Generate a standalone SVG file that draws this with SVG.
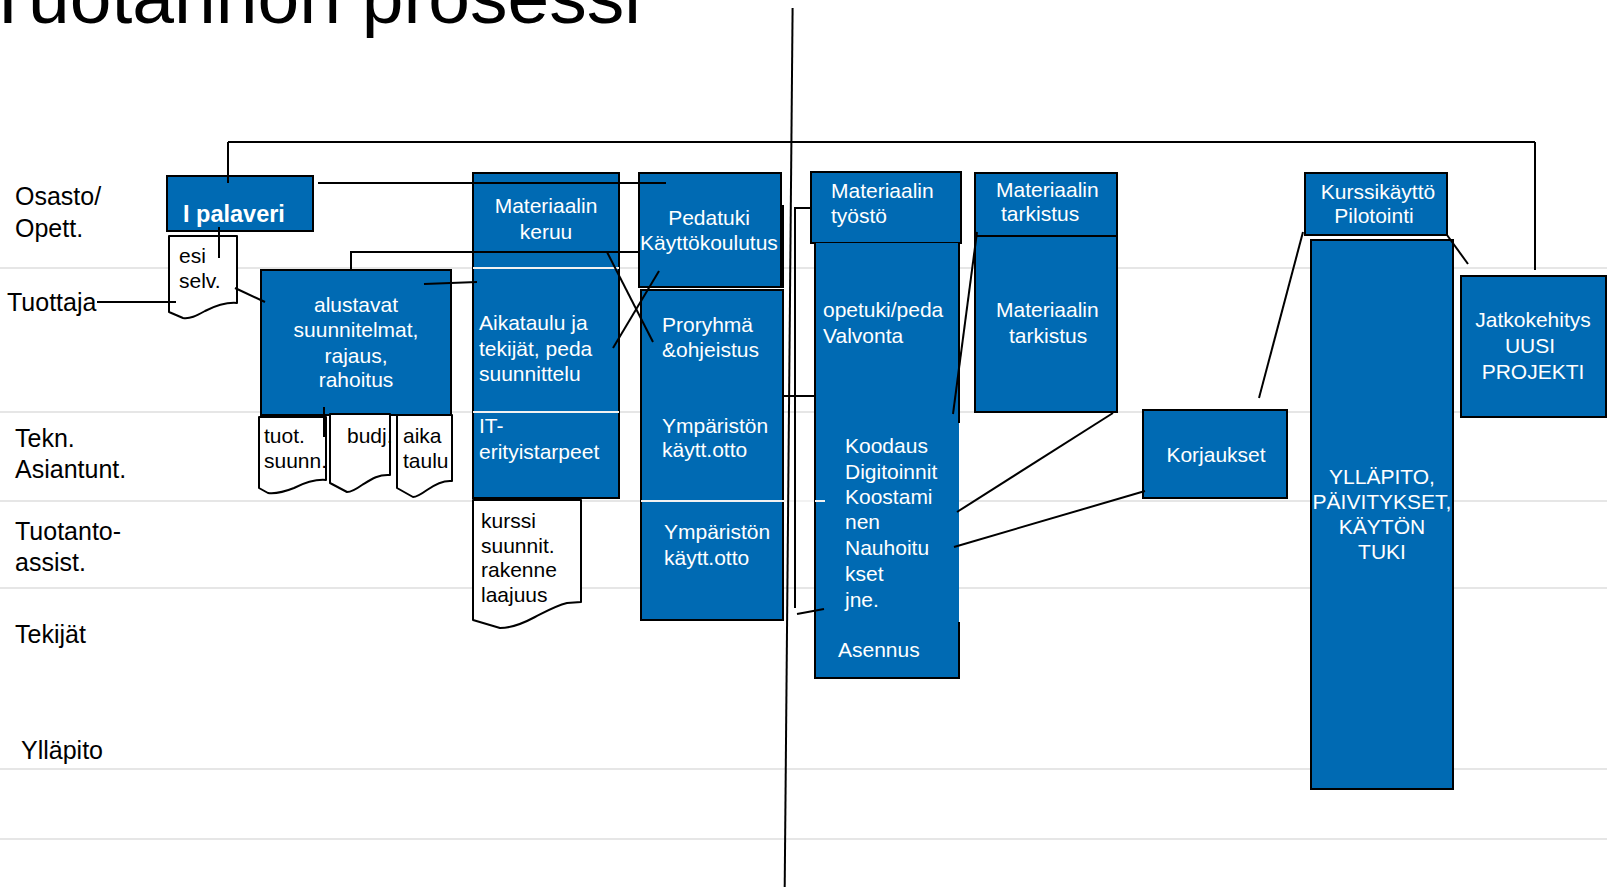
<svg xmlns="http://www.w3.org/2000/svg" width="1607" height="887" viewBox="0 0 1607 887">
<style>
text{font-family:"Liberation Sans",Arial,sans-serif}
.lane{stroke:#e6e6e6;stroke-width:2;fill:none}
.wl{stroke:#f2f2f2;stroke-width:2;fill:none}
.box{fill:#006ab3;stroke:#000;stroke-width:2}
.fillonly{fill:#006ab3;stroke:none}
.edge{fill:none;stroke:#000;stroke-width:2}
.doc{fill:#fff;stroke:#000;stroke-width:2;stroke-linejoin:round}
.lbl{font-size:25px;fill:#000}
.bt{font-size:21px;fill:#fff}
.dt{font-size:21px;fill:#000}
.c{text-anchor:middle}
.con line,.con polyline{stroke:#000;stroke-width:2;fill:none}
</style>
<rect width="1607" height="887" fill="#fff"/>
<g id="title"><text x="-15" y="23" font-size="75" fill="#000">Tuotannon prosessi</text></g>
<g id="lanes">
<line class="lane" x1="0" y1="268" x2="1607" y2="268"/>
<line class="lane" x1="0" y1="412" x2="1607" y2="412"/>
<line class="lane" x1="0" y1="501" x2="1607" y2="501"/>
<line class="lane" x1="0" y1="588" x2="1607" y2="588"/>
<line class="lane" x1="0" y1="769" x2="1607" y2="769"/>
<line class="lane" x1="0" y1="839" x2="1607" y2="839"/>
<text class="lbl" x="15" y="205">Osasto/</text>
<text class="lbl" x="15" y="237">Opett.</text>
<text class="lbl" x="7" y="311">Tuottaja</text>
<text class="lbl" x="15" y="447">Tekn.</text>
<text class="lbl" x="15" y="478">Asiantunt.</text>
<text class="lbl" x="15" y="540">Tuotanto-</text>
<text class="lbl" x="15" y="571">assist.</text>
<text class="lbl" x="15" y="643">Tekijät</text>
<text class="lbl" x="21" y="759">Ylläpito</text>
</g>
<g id="n-palaveri"><rect class="box" x="167" y="176" width="146" height="55"/><text x="183" y="222" font-size="23.5" font-weight="bold" fill="#fff">I palaveri</text></g>
<g id="n-esi"><path class="doc" d="M169,236 H237 V303 C225,302 215,306 205,311 C196,316 190,319 183,318 L169,312 Z"/><text class="dt" x="179" y="263">esi</text><text class="dt" x="179" y="288">selv.</text></g>
<g id="n-alustavat"><rect class="box" x="261" y="270" width="190" height="145"/>
<text class="bt c" x="356" y="312">alustavat</text><text class="bt c" x="356" y="337">suunnitelmat,</text><text class="bt c" x="356" y="363">rajaus,</text><text class="bt c" x="356" y="387">rahoitus</text></g>
<g id="n-tuot"><path class="doc" d="M259,417 H326 V480 C314,479 304,483 294,488 C284,492 276,494 268,493 L259,488 Z"/><text class="dt" x="264" y="443">tuot.</text><text class="dt" x="264" y="468">suunn.</text></g>
<g id="n-budj"><path class="doc" d="M330,414 H390 V475 C378,474 370,480 362,485 C355,490 351,492 347,492 L330,483 Z"/><text class="dt" x="347" y="443">budj.</text></g>
<g id="n-aika"><path class="doc" d="M397,415 H452 V481 C442,480 434,485 427,490 C420,495 416,497 413,497 L397,488 Z"/><text class="dt" x="403" y="443">aika</text><text class="dt" x="403" y="468">taulu</text></g>
<g id="n-keruu"><rect class="box" x="473" y="173" width="146" height="325"/>
<line class="wl" x1="473" y1="268" x2="619" y2="268"/><line class="wl" x1="473" y1="412" x2="619" y2="412"/>
<text class="bt c" x="546" y="213">Materiaalin</text><text class="bt c" x="546" y="239">keruu</text>
<text class="bt" x="479" y="330">Aikataulu ja</text><text class="bt" x="479" y="356">tekijät, peda</text><text class="bt" x="479" y="381">suunnittelu</text>
<text class="bt" x="479" y="433">IT-</text><text class="bt" x="479" y="459">erityistarpeet</text></g>
<g id="n-kurssi"><path class="doc" d="M473,500 H581 V602 L567,603 C555,606 545,612 535,617 C522,624 510,628 500,628 L473,620 Z"/>
<text class="dt" x="481" y="528">kurssi</text><text class="dt" x="481" y="553">suunnit.</text><text class="dt" x="481" y="577">rakenne</text><text class="dt" x="481" y="602">laajuus</text></g>
<g id="n-pedatuki"><rect class="box" x="639" y="173" width="142" height="114"/><text class="bt c" x="709" y="225">Pedatuki</text><text class="bt c" x="709" y="250">Käyttökoulutus</text></g>
<g id="n-proryhma"><rect class="box" x="641" y="290" width="142" height="330"/>
<line class="wl" x1="641" y1="501" x2="825" y2="501"/>
<text class="bt" x="662" y="332">Proryhmä</text><text class="bt" x="662" y="357">&amp;ohjeistus</text>
<text class="bt" x="662" y="433">Ympäristön</text><text class="bt" x="662" y="457">käytt.otto</text>
<text class="bt" x="664" y="539">Ympäristön</text><text class="bt" x="664" y="565">käytt.otto</text></g>
<g id="n-tyosto"><rect class="box" x="811" y="172" width="150" height="71"/><text class="bt" x="831" y="198">Materiaalin</text><text class="bt" x="831" y="223">työstö</text></g>
<g id="n-koodaus"><rect class="fillonly" x="815" y="243" width="144" height="435"/>
<path class="edge" d="M959,243 V423 M959,622 V678 H815 V243"/>
<line class="wl" x1="815" y1="501" x2="825" y2="501"/>
<text class="bt" x="823" y="317">opetuki/peda</text><text class="bt" x="823" y="343">Valvonta</text>
<text class="bt" x="845" y="453">Koodaus</text><text class="bt" x="845" y="479">Digitoinnit</text><text class="bt" x="845" y="504">Koostami</text><text class="bt" x="845" y="529">nen</text><text class="bt" x="845" y="555">Nauhoitu</text><text class="bt" x="845" y="581">kset</text><text class="bt" x="845" y="607">jne.</text>
<text class="bt" x="838" y="657">Asennus</text></g>
<g id="n-tarkistus1"><rect class="box" x="975" y="173" width="142" height="63"/><text class="bt" x="996" y="197">Materiaalin</text><text class="bt" x="1001" y="221">tarkistus</text></g>
<g id="n-tarkistus2"><rect class="box" x="975" y="236" width="142" height="176"/><text class="bt" x="996" y="317">Materiaalin</text><text class="bt" x="1009" y="343">tarkistus</text></g>
<g id="n-korjaukset"><rect class="box" x="1143" y="410" width="144" height="88"/><text class="bt c" x="1216" y="462">Korjaukset</text></g>
<g id="n-kurssikaytto"><rect class="box" x="1305" y="173" width="142" height="62"/><text class="bt c" x="1378" y="199">Kurssikäyttö</text><text class="bt c" x="1374" y="223">Pilotointi</text></g>
<g id="n-yllapito"><rect class="box" x="1311" y="240" width="142" height="549"/>
<text class="bt c" x="1382" y="484">YLLÄPITO,</text><text class="bt c" x="1382" y="509">PÄIVITYKSET,</text><text class="bt c" x="1382" y="534">KÄYTÖN</text><text class="bt c" x="1382" y="559">TUKI</text></g>
<g id="n-jatko"><rect class="box" x="1461" y="276" width="145" height="141"/>
<text class="bt c" x="1533" y="327">Jatkokehitys</text><text class="bt c" x="1530" y="353">UUSI</text><text class="bt c" x="1533" y="379">PROJEKTI</text></g>
<g id="connectors" class="con">
<line x1="228" y1="142" x2="1535" y2="142"/>
<line x1="228" y1="142" x2="228" y2="183"/>
<line x1="1535" y1="142" x2="1535" y2="270"/>
<line x1="318" y1="183" x2="666" y2="183"/>
<line x1="219" y1="227" x2="219" y2="258"/>
<line x1="97" y1="302" x2="176" y2="302"/>
<line x1="235" y1="288" x2="265" y2="302"/>
<polyline points="351,270 351,252 639,252"/>
<line x1="424" y1="284" x2="477" y2="282"/>
<line x1="324" y1="407" x2="324" y2="437"/>
<line x1="607" y1="252" x2="653" y2="342"/>
<line x1="613" y1="348" x2="659" y2="271"/>
<line x1="783" y1="205" x2="783" y2="288"/>
<line x1="792.6" y1="8" x2="784.7" y2="887"/>
<polyline points="811,208 795,208 795,608"/>
<line x1="797" y1="614" x2="824" y2="609"/>
<line x1="783" y1="396" x2="815" y2="396"/>
<line x1="953" y1="414" x2="977" y2="232"/>
<line x1="1113" y1="413" x2="957" y2="512"/>
<line x1="954" y1="547" x2="1145" y2="491"/>
<line x1="1259" y1="398" x2="1303" y2="232"/>
<line x1="1447" y1="235" x2="1468" y2="264"/>
</g>
</svg>
